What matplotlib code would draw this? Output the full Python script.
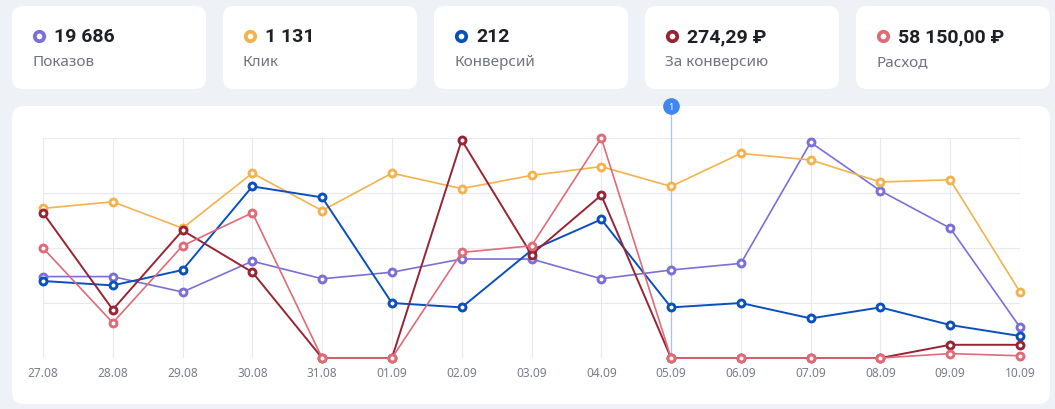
import matplotlib.pyplot as plt
from matplotlib.patches import FancyBboxPatch

plt.rcParams['font.family'] = ['Noto Sans', 'DejaVu Sans']

# dates on the x axis
dates = ['27.08', '28.08', '29.08', '30.08', '31.08', '01.09', '02.09', '03.09',
         '04.09', '05.09', '06.09', '07.09', '08.09', '09.09', '10.09']

# each series is drawn on its own scale, values as % of chart height
shows = [37, 37, 30, 44, 36, 39, 45, 45, 36, 40, 43, 98, 76, 59, 14]
clicks = [68, 71, 59, 84, 67, 84, 77, 83, 87, 78, 93, 90, 80, 81, 30]
conversions = [35, 33, 40, 78, 73, 25, 23, 49, 63, 23, 25, 18, 23, 15, 10]
cost_per_conv = [66, 22, 58, 39, 0, 0, 99, 47, 74, 0, 0, 0, 0, 6, 6]
spend = [50, 16, 51, 66, 0, 0, 48, 51, 100, 0, 0, 0, 0, 2, 1]

card_values = ['19 686', '1 131', '212', '274,29 ₽', '58 150,00 ₽']
card_labels = ['Показов', 'Клик', 'Конверсий', 'За конверсию', 'Расход']
colors = ['#7a6fd6', '#f4b24e', '#0a4fbe', '#982433', '#df6b76']
event_day = 9

fig = plt.figure(figsize=(10.55, 4.10), dpi=100)
fig.patch.set_facecolor('#eef1f6')

# background layer in pixel coordinates
bg = fig.add_axes([0, 0, 1, 1])
bg.set_xlim(0, 1055)
bg.set_ylim(410, 0)
bg.axis('off')

for i in range(5):
    x0 = 12 + i * 211
    bg.add_patch(FancyBboxPatch((x0, 7), 194, 83, boxstyle='round,pad=0,rounding_size=11',
                                fc='white', ec='none'))
    bg.plot(x0 + 27, 37, 'o', ms=6.8, mfc='white', mec=colors[i], mew=2.7)
    bg.text(x0 + 42, 37, card_values[i], fontsize=14, fontweight='bold',
            family=['Roboto', 'DejaVu Sans'], color='#1e2026', va='center', ha='left')
    bg.text(x0 + 20, 63, card_labels[i], fontsize=11, color='#6e7480',
            va='center', ha='left')

bg.add_patch(FancyBboxPatch((12, 107), 1038, 298, boxstyle='round,pad=0,rounding_size=12',
                            fc='white', ec='none'))

ax = fig.add_axes([43 / 1055, 51 / 410, 977 / 1055, 220 / 410])
ax.set_facecolor('none')
x = list(range(len(dates)))
ax.set_xlim(0, len(dates) - 1)
ax.set_ylim(0, 100)
ax.set_xticks(x)
ax.set_xticklabels(dates)
ax.set_yticks([0, 25, 50, 75, 100])
ax.set_yticklabels([])
ax.tick_params(length=0, pad=6, labelsize=8.6, labelcolor='#787e88')
ax.grid(True, color='#e7e9ee', lw=0.8)
for s in ax.spines.values():
    s.set_visible(False)

# event marker
ax.axvline(event_day, ymin=0, ymax=1.145, color='#a9c3ee', lw=0.9, clip_on=False, zorder=2)
tr = ax.get_xaxis_transform()
ax.plot(event_day, 1.145, 'o', ms=11, color='#3f86f2', transform=tr, clip_on=False, zorder=6)
ax.text(event_day, 1.145, '1', transform=tr, ha='center', va='center', fontsize=6.5,
        fontweight='bold', color='white', zorder=7)

series = [clicks, shows, conversions, cost_per_conv, spend]
order = [1, 0, 2, 3, 4]
widths = [1.2, 1.2, 1.4, 1.4, 1.2]
for k, vals in zip(order, series):
    ax.plot(x, vals, color=colors[k], lw=widths[k], marker='o', ms=5,
            mfc='white', mec=colors[k], mew=2.1, clip_on=False, zorder=3 + k * 0.1)

fig.savefig('out.png', dpi=100, facecolor=fig.get_facecolor())
